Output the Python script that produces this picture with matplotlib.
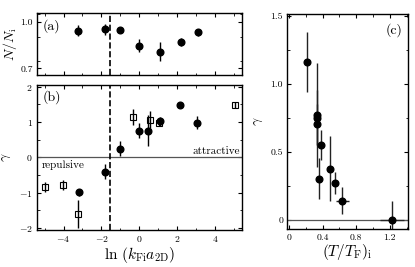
import numpy as np
import matplotlib
matplotlib.use('Agg')
import matplotlib.pyplot as plt
from matplotlib.ticker import MultipleLocator

plt.rcParams['font.family'] = 'serif'
plt.rcParams['font.serif'] = ['cmr10', 'DejaVu Serif']
plt.rcParams['mathtext.fontset'] = 'cm'
plt.rcParams['axes.formatter.use_mathtext'] = True
plt.rcParams['axes.unicode_minus'] = True

# panel (a): atom number ratio
a_x = [-3.25, -1.84, -1.02, -0.04, 1.09, 2.19, 3.07]
a_y = [0.942, 0.951, 0.947, 0.846, 0.807, 0.870, 0.932]
a_err = [0.037, 0.035, 0.012, 0.040, 0.062, 0.025, 0.022]

# panel (b): filled circles
b_circ_x = [-3.16, -1.79, -1.02, -0.04, 0.44, 1.10, 2.16, 3.03]
b_circ_y = [-0.99, -0.40, 0.25, 0.76, 0.76, 1.02, 1.48, 0.98]
b_circ_err = [0.10, 0.20, 0.21, 0.21, 0.45, 0.12, 0.03, 0.18]

# panel (b): open squares
b_sq_x = [-5.00, -4.04, -3.25, -0.32, 0.56, 1.05, 5.02]
b_sq_y = [-0.84, -0.78, -1.60, 1.15, 1.07, 0.98, 1.48]
b_sq_err = [0.15, 0.15, 0.40, 0.22, 0.23, 0.10, 0.08]

# panel (c): gamma vs initial temperature
c_t = [0.21, 0.33, 0.33, 0.33, 0.376, 0.364, 0.487, 0.55, 0.635, 1.224]
c_y = [1.16, 0.77, 0.75, 0.70, 0.55, 0.30, 0.374, 0.27, 0.14, 0.0]
c_yerr = [0.22, 0.38, 0.20, 0.15, 0.11, 0.15, 0.24, 0.08, 0.10, 0.14]
c_xerr = [0.0, 0.0, 0.0, 0.0, 0.02, 0.02, 0.0, 0.02, 0.08, 0.14]

dashed_x = -1.53

fig = plt.figure(figsize=(4.15, 2.67), dpi=100)
ax_a = fig.add_axes([0.089, 0.719, 0.494, 0.232])
ax_b = fig.add_axes([0.089, 0.139, 0.494, 0.543])
ax_c = fig.add_axes([0.692, 0.142, 0.292, 0.805])

for ax in (ax_a, ax_b, ax_c):
    ax.tick_params(which='both', direction='in', top=True, right=True, labelsize=7, pad=3)
    ax.tick_params(which='major', length=3, width=0.8)
    ax.tick_params(which='minor', length=1.8, width=0.6)
    for s in ax.spines.values():
        s.set_linewidth(1.0)

ekw = dict(fmt='o', color='black', ms=4.8, elinewidth=1.0, capsize=0)

# (a)
ax_a.errorbar(a_x, a_y, yerr=a_err, **ekw)
ax_a.axvline(dashed_x, color='black', ls='--', lw=1.2)
ax_a.set_xlim(-5.4, 5.4)
ax_a.set_ylim(0.657, 1.054)
ax_a.set_yticks([0.7, 1.0])
ax_a.set_yticklabels(['0.7', '1.0'])
ax_a.yaxis.set_minor_locator(MultipleLocator(0.15))
ax_a.xaxis.set_major_locator(MultipleLocator(2))
ax_a.xaxis.set_minor_locator(MultipleLocator(1))
ax_a.set_xticklabels([])
ax_a.set_ylabel(r'$N/N_\mathrm{i}$', fontsize=10, labelpad=1)
ax_a.text(0.03, 0.9, '(a)', transform=ax_a.transAxes, fontsize=10, va='top', ha='left')

# (b)
ax_b.axhline(0, color='#555555', lw=0.9)
ax_b.axvline(dashed_x, color='black', ls='--', lw=1.2)
ax_b.errorbar(b_circ_x, b_circ_y, yerr=b_circ_err, **ekw)
ax_b.errorbar(b_sq_x, b_sq_y, yerr=b_sq_err, fmt='s', mfc='none', mec='black', mew=0.8,
              color='black', ms=5, elinewidth=1.0, capsize=0)
ax_b.set_xlim(-5.4, 5.4)
ax_b.set_ylim(-2.05, 2.05)
ax_b.xaxis.set_major_locator(MultipleLocator(2))
ax_b.xaxis.set_minor_locator(MultipleLocator(1))
ax_b.yaxis.set_major_locator(MultipleLocator(1))
ax_b.yaxis.set_minor_locator(MultipleLocator(0.5))
ax_b.set_xlabel(r'$\ln\,(k_\mathrm{Fi}a_\mathrm{2D})$', fontsize=11, labelpad=1)
ax_b.set_ylabel(r'$\gamma$', fontsize=10, labelpad=4)
ax_b.text(0.03, 0.96, '(b)', transform=ax_b.transAxes, fontsize=10, va='top', ha='left')
ax_b.text(-5.15, -0.08, 'repulsive', fontsize=8, va='top', ha='left')
ax_b.text(5.3, 0.05, 'attractive', fontsize=8, va='bottom', ha='right')

# (c)
ax_c.axhline(0, color='#555555', lw=0.9)
ax_c.errorbar(c_t, c_y, yerr=c_yerr, xerr=c_xerr, fmt='o', color='black', ecolor='#222222',
              ms=4.8, elinewidth=1.0, capsize=0)
ax_c.set_xlim(-0.02, 1.42)
ax_c.set_ylim(-0.07, 1.51)
ax_c.set_xticks([0, 0.4, 0.8, 1.2])
ax_c.set_xticklabels(['0', '0.4', '0.8', '1.2'])
ax_c.xaxis.set_minor_locator(MultipleLocator(0.2))
ax_c.set_yticks([0, 0.5, 1.0, 1.5])
ax_c.set_yticklabels(['0', '0.5', '1.0', '1.5'])
ax_c.yaxis.set_minor_locator(MultipleLocator(0.25))
ax_c.set_xlabel(r'$(T/T_\mathrm{F})_\mathrm{i}$', fontsize=11, labelpad=0)
ax_c.set_ylabel(r'$\gamma$', fontsize=10, labelpad=4)
ax_c.text(0.95, 0.96, '(c)', transform=ax_c.transAxes, fontsize=10, va='top', ha='right')

fig.savefig('out.png', dpi=100)
